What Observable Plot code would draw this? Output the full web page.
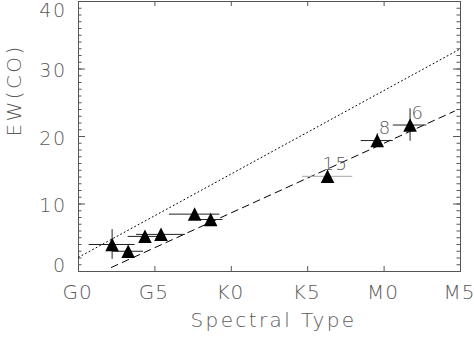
<!DOCTYPE html>
<html><head><meta charset="utf-8">
<script src="https://cdn.jsdelivr.net/npm/d3@7"></script>
<script src="https://cdn.jsdelivr.net/npm/@observablehq/plot@0.6"></script>
<style>
body{margin:0;background:#fff;}
svg{font-family:"DejaVu Sans",sans-serif;}
svg g[font-size="20px"] text{letter-spacing:2.4px;}
svg g[font-size="20"] text{letter-spacing:1px;}
svg g[font-size="19"] text{letter-spacing:1.5px;}
svg g[font-size="18"] text{letter-spacing:1.5px;}
</style>
</head><body><div id="chart"></div>
<script>
// Data
const spectralX = [2.2, 3.25, 4.35, 5.4, 7.6, 8.65, 16.3, 19.55, 21.7];
const ewCO     = [4.0, 3.0, 5.2, 5.5, 8.5, 7.7, 14.1, 19.4, 21.7];
const xErr     = [1.5, 1.0, 1.1, 1.6, 1.65, 0.8, 1.65, 1.05, 1.1];
const yErr     = [2.2, 0, 0, 0, 0, 0, 0, 1.0, 2.4];
const pointLabels = ["", "", "", "", "", "", "15", "8", "6"];
const xTickValues = [0, 5, 10, 15, 20, 25];
const xTickLabels = ["G0", "G5", "K0", "K5", "M0", "M5"];
const yTickValues = [0, 10, 20, 30, 40];
const yMinorTicks = d3.range(0, 41, 1);
const dottedX = [0, 25];
const dottedY = [2.1, 33.0];
const dashedX = [2.15, 24.6];
const dashedY = [0.6, 23.75];
const xTitle = "Spectral Type";
const yTitle = "EW(CO)";

const rows = spectralX.map((x, i) => ({x, y: ewCO[i], xe: xErr[i], ye: yErr[i], label: pointLabels[i]}));
const dotted = dottedX.map((x, i) => ({x, y: dottedY[i]}));
const dashed = dashedX.map((x, i) => ({x, y: dashedY[i]}));
const xTicks = xTickValues.map((v, i) => ({v, t: xTickLabels[i]}));

const W = 474, H = 341, mL = 78, mR = 14, mT = 1, mB = 70;
const pw = W - mL - mR, ph = H - mT - mB;
const txt = "#5a5a5a";
const fw = 200;

const triangle = {
  draw(ctx, size) {
    const r = Math.sqrt(size / Math.PI);
    ctx.moveTo(0, -r);
    ctx.lineTo(r, r * 0.98);
    ctx.lineTo(-r, r * 0.98);
    ctx.closePath();
  }
};

const chart = Plot.plot({
  width: W, height: H,
  marginLeft: mL, marginRight: mR, marginTop: mT, marginBottom: mB,
  x: {domain: [0, 25], axis: null},
  y: {domain: [0, 40], axis: null},
  marks: [
    // minor y ticks (inward, both sides)
    Plot.ruleY(yMinorTicks, {y: d => d, insetRight: pw - 3.5, stroke: "#555"}),
    Plot.ruleY(yMinorTicks, {y: d => d, insetLeft: pw - 3.5, stroke: "#555"}),
    // major y ticks
    Plot.ruleY(yTickValues, {y: d => d, insetRight: pw - 7, stroke: "#555"}),
    Plot.ruleY(yTickValues, {y: d => d, insetLeft: pw - 7, stroke: "#555"}),
    // major x ticks
    Plot.ruleX(xTickValues, {x: d => d, insetTop: ph - 5, stroke: "#555"}),
    Plot.ruleX(xTickValues, {x: d => d, insetBottom: ph - 5, stroke: "#555"}),
    Plot.frame({stroke: "#555"}),
    // fit lines
    Plot.line(dotted, {x: "x", y: "y", stroke: "#000", strokeWidth: 1, strokeDasharray: "1,3"}),
    Plot.line(dashed, {x: "x", y: "y", stroke: "#000", strokeWidth: 1, strokeDasharray: "7,5"}),
    // error bars
    Plot.ruleY(rows, {y: "y", x1: d => d.x - d.xe, x2: d => d.x + d.xe,
      stroke: d => d.label === "15" ? "#aaa" : "#222", strokeWidth: 1}),
    Plot.ruleX(rows.filter(d => d.ye > 0), {x: "x", y1: d => d.y - d.ye, y2: d => d.y + d.ye, stroke: "#222", strokeWidth: 1}),
    // points
    Plot.dot(rows, {x: "x", y: "y", symbol: triangle, r: 6.8, fill: "#000", stroke: "none"}),
    Plot.text(rows.filter(d => d.label), {x: "x", y: "y", text: "label", dx: 8, dy: -12,
      fontSize: 18, fill: txt, fontWeight: fw}),
    // y tick labels
    Plot.text(yTickValues.filter(v => v > 0 && v < 40), {y: d => d, frameAnchor: "left", dx: -12, dy: 2,
      text: d => String(d), textAnchor: "end", fontSize: 19, fill: txt, fontWeight: fw}),
    Plot.text(yTickValues.filter(v => v === 0), {y: d => d, frameAnchor: "left", dx: -12, dy: -6,
      text: d => String(d), textAnchor: "end", fontSize: 19, fill: txt, fontWeight: fw}),
    Plot.text(yTickValues.filter(v => v === 40), {y: d => d, frameAnchor: "left", dx: -12, dy: 9,
      text: d => String(d), textAnchor: "end", fontSize: 19, fill: txt, fontWeight: fw}),
    // x tick labels
    Plot.text(xTicks, {x: "v", text: "t", frameAnchor: "bottom", dx: -1, dy: 27,
      fontSize: 20, fill: txt, fontWeight: fw}),
    // axis titles
    Plot.text([xTitle], {text: d => d, frameAnchor: "bottom", dx: 4, dy: 55,
      fontSize: "20px", fill: txt, fontWeight: fw}),
    Plot.text([yTitle], {text: d => d, frameAnchor: "left", dx: -64, rotate: -90,
      fontSize: "20px", fill: txt, fontWeight: fw})
  ]
});
document.getElementById("chart").appendChild(chart);
</script>
</body></html>
